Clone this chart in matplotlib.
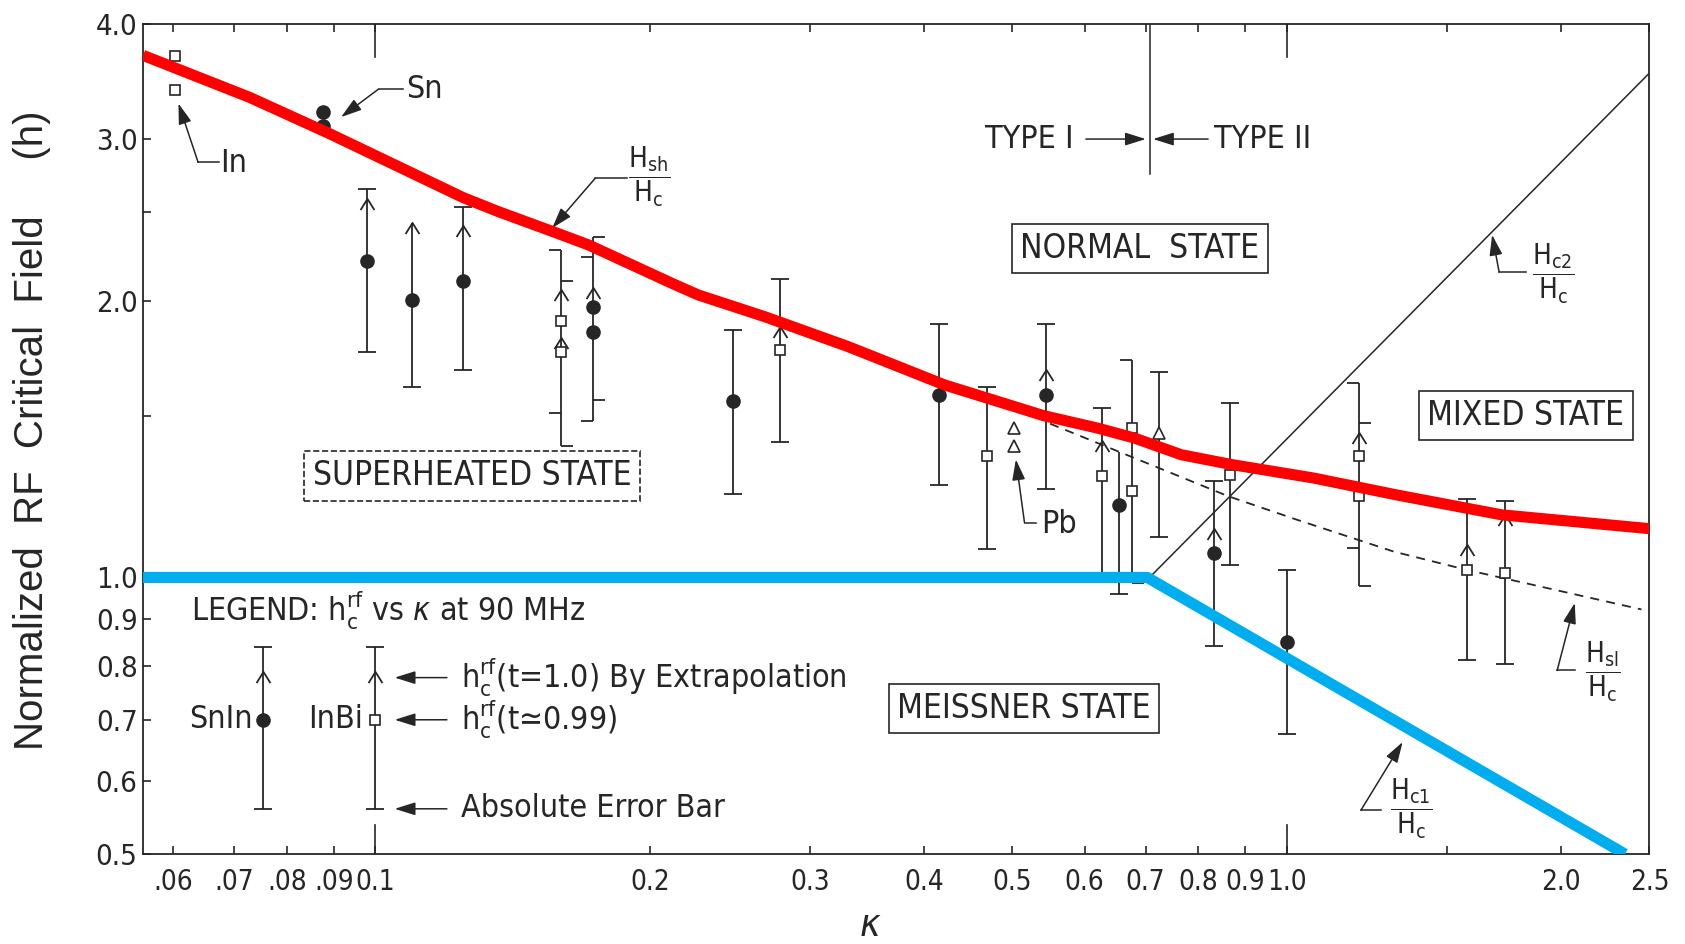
import numpy as np
import matplotlib.pyplot as plt
from matplotlib.path import Path
from matplotlib.ticker import FixedLocator, FixedFormatter, NullFormatter

plt.rcParams['font.family'] = ['DejaVu Sans']
plt.rcParams['font.stretch'] = 'condensed'
plt.rcParams['mathtext.fontset'] = 'dejavusans'

ink = '#262626'

# theory curves (kappa, h)
k_sh = [0.0556, 0.0728, 0.0891, 0.1249, 0.1366, 0.1582, 0.1715, 0.2115, 0.226, 0.2675,
        0.3303, 0.4213, 0.541, 0.6198, 0.6806, 0.7661, 0.8698, 1.0697, 1.3186, 1.72, 2.5]
h_sh = [3.70, 3.33, 3.04, 2.59, 2.50, 2.37, 2.30, 2.09, 2.03, 1.922,
        1.783, 1.62, 1.50, 1.454, 1.418, 1.360, 1.327, 1.283, 1.230, 1.17, 1.13]
k_c1 = [0.0556, 0.703, 2.35]
h_c1 = [1.0, 1.0, 0.5]
k_c2 = [0.707, 2.5]
h_c2 = [1.0, 3.54]
k_sl = [0.55, 0.862, 1.025, 1.31, 1.57, 2.45]
h_sl = [1.47, 1.226, 1.156, 1.067, 1.02, 0.923]

# error bars: kappa, lower, upper
bar_k = [0.098, 0.1096, 0.1249, 0.160, 0.1733, 0.247, 0.2778, 0.415, 0.469, 0.544,
         0.627, 0.655, 0.677, 0.7245, 0.832, 0.866, 1.0, 1.2, 1.576, 1.735, 0.0752, 0.1]
bar_lo = [1.76, 1.61, 1.68, 1.39, 1.48, 1.233, 1.403, 1.260, 1.075, 1.248,
          0.99, 0.959, 0.987, 1.107, 0.842, 1.031, 0.675, 0.979, 0.813, 0.805, 0.56, 0.56]
bar_hi = [2.65, 2.43, 2.53, 2.27, 2.35, 1.859, 2.111, 1.885, 1.611, 1.888,
          1.529, 1.371, 1.725, 1.675, 1.273, 1.548, 1.019, 1.628, 1.217, 1.210, 0.84, 0.84]

# full caps
cap_k = [0.098, 0.098, 0.1096, 0.1249, 0.1249, 0.247, 0.247, 0.2778, 0.2778, 0.415, 0.415,
         0.469, 0.469, 0.544, 0.544, 0.627, 0.655, 0.7245, 0.7245, 0.832, 0.832, 0.866, 0.866,
         1.0, 1.0, 1.576, 1.576, 1.735, 1.735, 0.0752, 0.0752, 0.1, 0.1]
cap_h = [2.65, 1.76, 1.61, 2.53, 1.68, 1.859, 1.233, 2.111, 1.403, 1.885, 1.260,
         1.611, 1.075, 1.888, 1.248, 1.529, 0.959, 1.675, 1.107, 1.273, 0.842, 1.548, 1.031,
         1.019, 0.675, 1.217, 0.813, 1.210, 0.805, 0.84, 0.56, 0.84, 0.56]
# half caps
lcap_k = [0.160, 0.160, 0.1733, 0.1733, 0.677, 1.2, 1.2]
lcap_h = [2.27, 1.51, 2.23, 1.48, 1.725, 1.628, 1.077]
rcap_k = [0.160, 0.160, 0.1733, 0.1733, 0.677, 1.2, 1.2]
rcap_h = [2.10, 1.39, 2.35, 1.56, 0.987, 1.473, 0.979]

# h_c^rf(t=0.99) points
circ_k = [0.098, 0.1096, 0.1249, 0.1733, 0.1733, 0.247, 0.415, 0.544, 0.655, 0.832, 1.0,
          0.0876, 0.0876, 0.0752]
circ_h = [2.21, 2.005, 2.10, 1.97, 1.85, 1.557, 1.579, 1.580, 1.200, 1.064, 0.851,
          3.21, 3.10, 0.70]
sq_k = [0.0603, 0.0603, 0.160, 0.160, 0.2778, 0.469, 0.627, 0.677, 0.677, 0.866,
        1.2, 1.2, 1.576, 1.735, 0.1]
sq_h = [3.69, 3.39, 1.90, 1.76, 1.767, 1.355, 1.288, 1.454, 1.241, 1.294,
        1.355, 1.225, 1.019, 1.012, 0.70]
tri_k = [0.502, 0.502, 0.7245]
tri_h = [1.454, 1.389, 1.436]
# h_c^rf(t=1.0) by extrapolation
arr_k = [0.098, 0.1096, 0.1249, 0.160, 0.160, 0.1733, 0.2778, 0.544, 0.627, 0.832,
         1.2, 1.576, 1.735, 0.0752, 0.1]
arr_h = [2.55, 2.40, 2.38, 2.03, 1.80, 2.04, 1.85, 1.66, 1.389, 1.114,
         1.42, 1.07, 1.156, 0.78, 0.78]

x_ticks = [0.06, 0.07, 0.08, 0.09, 0.1, 0.2, 0.3, 0.4, 0.5, 0.6, 0.7, 0.8, 0.9, 1.0, 2.0, 2.5]
x_labels = ['.06', '.07', '.08', '.09', '0.1', '0.2', '0.3', '0.4', '0.5', '0.6', '0.7',
            '0.8', '0.9', '1.0', '2.0', '2.5']
y_ticks = [0.5, 0.6, 0.7, 0.8, 0.9, 1.0, 2.0, 3.0, 4.0]
y_labels = ['0.5', '0.6', '0.7', '0.8', '0.9', '1.0', '2.0', '3.0', '4.0']

fig = plt.figure(figsize=(16.85, 9.44), dpi=100)
ax = fig.add_axes([0.0849, 0.0953, 0.894, 0.879])
ax.set_xscale('log')
ax.set_yscale('log')
ax.set_xlim(0.0556, 2.5)
ax.set_ylim(0.5, 4.0)

ax.xaxis.set_major_locator(FixedLocator(x_ticks))
ax.xaxis.set_major_formatter(FixedFormatter(x_labels))
ax.xaxis.set_minor_locator(FixedLocator([1.5]))
ax.xaxis.set_minor_formatter(NullFormatter())
ax.yaxis.set_major_locator(FixedLocator(y_ticks))
ax.yaxis.set_major_formatter(FixedFormatter(y_labels))
ax.yaxis.set_minor_locator(FixedLocator([1.5, 2.5]))
ax.yaxis.set_minor_formatter(NullFormatter())
ax.tick_params(which='both', direction='in', top=True, right=False, color=ink,
               width=1.2, length=6, labelsize=21, labelcolor=ink)
ax.tick_params(axis='x', pad=10, labelsize=20)
ax.tick_params(axis='y', pad=4)
for s in ax.spines.values():
    s.set_color(ink)
    s.set_linewidth(1.3)

# long ticks at 0.1 and 1.0
xt = ax.get_xaxis_transform()
for k in (0.1, 1.0):
    ax.plot([k, k], [0, 0.035], transform=xt, color=ink, lw=1.2)
    ax.plot([k, k], [1, 0.96], transform=xt, color=ink, lw=1.2)

# error bars
ax.vlines(bar_k, bar_lo, bar_hi, color=ink, lw=1.3, zorder=2)
ax.plot(cap_k, cap_h, ls='none', marker='_', ms=13, mew=1.3, color=ink, zorder=2)
lcap = Path([(-1, 0), (0, 0)], [Path.MOVETO, Path.LINETO])
rcap = Path([(0, 0), (1, 0)], [Path.MOVETO, Path.LINETO])
ax.plot(lcap_k, lcap_h, ls='none', marker=lcap, ms=17, mew=1.3, color=ink, zorder=2)
ax.plot(rcap_k, rcap_h, ls='none', marker=rcap, ms=17, mew=1.3, color=ink, zorder=2)
chevron = Path([(-0.5, -0.4), (0, 0.4), (0.5, -0.4)], [Path.MOVETO, Path.LINETO, Path.LINETO])
ax.plot(arr_k, arr_h, ls='none', marker=chevron, ms=10, mew=1.3, mfc='none', color=ink, zorder=3)

ax.plot(circ_k, circ_h, ls='none', marker='o', ms=9.5, color=ink, zorder=4)
ax.plot(sq_k, sq_h, ls='none', marker='s', ms=7.5, mfc='white', mec=ink, mew=1.2, zorder=4)
ax.plot(tri_k, tri_h, ls='none', marker='^', ms=9, mfc='white', mec=ink, mew=1.2, zorder=4)

# phase boundaries
ax.plot(k_c2, h_c2, color=ink, lw=1.1, zorder=3)
ax.plot(k_sl, h_sl, color=ink, lw=1.3, ls=(0, (5, 4)), zorder=3)
ax.plot([0.707, 0.707], [4.0, 2.75], color=ink, lw=1.1)
ax.plot(k_sh, h_sh, color='#ff0000', lw=8, solid_capstyle='butt', solid_joinstyle='round', zorder=6)
ax.plot(k_c1, h_c1, color='#00aeef', lw=8, solid_capstyle='butt', zorder=6)

txt = dict(color=ink, fontsize=23, va='center')
state = dict(color=ink, fontsize=24, va='center', ha='center')
box = dict(boxstyle='square,pad=0.25', fc='white', ec=ink, lw=1.2)
ax.text(0.69, 2.28, 'NORMAL  STATE', bbox=box, **state)
ax.text(1.83, 1.50, 'MIXED STATE', bbox=box, **state)
ax.text(0.515, 0.72, 'MEISSNER STATE', bbox=box, **state)
ax.text(0.1276, 1.29, 'SUPERHEATED STATE',
        bbox=dict(boxstyle='square,pad=0.25', fc='white', ec=ink, lw=1.2, ls='--'), **state)

ax.text(0.5837, 3.0, 'TYPE I', ha='right', **txt)
ax.text(0.8315, 3.0, 'TYPE II', ha='left', **txt)

head = dict(arrowstyle='-|>,head_length=0.7,head_width=0.22', color=ink, lw=1.1,
            mutation_scale=18, shrinkA=0, shrinkB=0)


def leader(pts):
    if len(pts) > 2:
        ax.plot([p[0] for p in pts[:-1]], [p[1] for p in pts[:-1]], color=ink, lw=1.1)
    ax.annotate('', xy=pts[-1], xytext=pts[-2], arrowprops=head)


leader([(0.602, 3.0), (0.7003, 3.0)])
leader([(0.8198, 3.0), (0.7133, 3.0)])
leader([(0.1073, 3.40), (0.1008, 3.40), (0.0917, 3.17)])
leader([(0.0673, 2.83), (0.0639, 2.83), (0.0608, 3.28)])
leader([(0.531, 1.147), (0.5155, 1.147), (0.5044, 1.344)])
leader([(0.1889, 2.72), (0.1743, 2.72), (0.1563, 2.40)])
leader([(1.83, 2.15), (1.71, 2.15), (1.68, 2.36)])
leader([(2.07, 0.792), (1.98, 0.792), (2.07, 0.938)])
leader([(1.27, 0.558), (1.206, 0.558), (1.34, 0.662)])
for h in (0.778, 0.70, 0.56):
    leader([(0.1198, h), (0.105, h)])

ax.text(0.108, 3.40, 'Sn', ha='left', **txt)
ax.text(0.0676, 2.82, 'In', ha='left', **txt)
ax.text(0.5374, 1.143, 'Pb', ha='left', **txt)

frac = dict(color=ink, fontsize=20, ha='center', va='center')
ax.text(0.1995, 2.73, r'$\dfrac{\mathrm{H_{sh}}}{\mathrm{H_c}}$', **frac)
ax.text(1.96, 2.14, r'$\dfrac{\mathrm{H_{c2}}}{\mathrm{H_c}}$', **frac)
ax.text(2.22, 0.79, r'$\dfrac{\mathrm{H_{sl}}}{\mathrm{H_c}}$', **frac)
ax.text(1.37, 0.56, r'$\dfrac{\mathrm{H_{c1}}}{\mathrm{H_c}}$', **frac)

# legend block
ax.text(0.0628, 0.919, r'LEGEND: $\mathrm{h_c^{rf}}$ vs $\kappa$ at 90 MHz', ha='left', **txt)
ax.text(0.0734, 0.70, 'SnIn', ha='right', **txt)
ax.text(0.097, 0.70, 'InBi', ha='right', **txt)
ax.text(0.1242, 0.778, r'$\mathrm{h_c^{rf}}$(t=1.0) By Extrapolation', ha='left', **txt)
ax.text(0.1242, 0.70, r'$\mathrm{h_c^{rf}}$(t≃0.99)', ha='left', **txt)
ax.text(0.1242, 0.56, 'Absolute Error Bar', ha='left', **txt)

fig.text(0.019, 0.544, 'Normalized  RF  Critical  Field     (h)', rotation=90,
         ha='center', va='center', fontsize=29, color=ink,
         family=['Liberation Sans', 'DejaVu Sans'], stretch='normal')
fig.text(0.516, 0.02, 'κ', ha='center', va='center', fontsize=28, color=ink,
         style='italic', family=['DejaVu Sans'])

fig.savefig('out.png', dpi=100)
